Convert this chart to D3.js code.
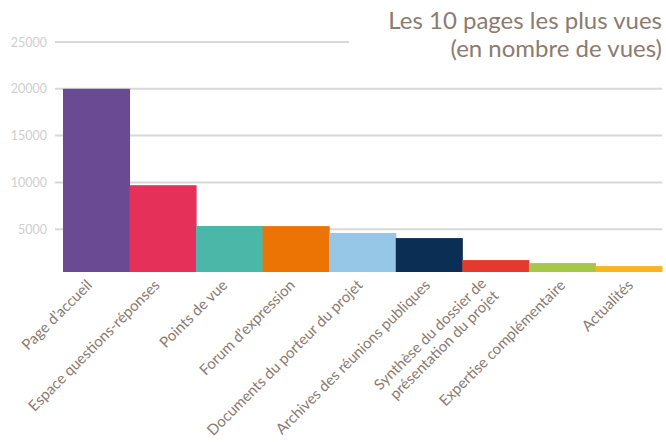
<!DOCTYPE html>
<html>
<head>
<meta charset="utf-8">
<script src="https://cdn.jsdelivr.net/npm/d3@7"></script>
<style>
  body { margin: 0; background: #fff; }
  svg { display: block; font-family: Lato, sans-serif; }
</style>
</head>
<body>
<div class="chart"></div>
<script>
var width = 666, height = 442;

// data
var pages = ["Page d\u2019accueil", "Espace questions-réponses", "Points de vue",
  "Forum d\u2019expression", "Documents du porteur du projet", "Archives des réunions publiques",
  "Synthèse du dossier de\nprésentation du projet", "Expertise complémentaire", "Actualités"];
var views = [20000, 9700, 5350, 5330, 4600, 4050, 1700, 1380, 1060];
var barColors = ["#6a4a92", "#e5305a", "#4bb7a9", "#ec7405", "#97c7e7", "#0a2e54", "#e4392f", "#a6c74a", "#f8b520"];
var yTicks = [5000, 10000, 15000, 20000, 25000];
var titleLines = ["Les 10 pages les plus vues", "(en nombre de vues)"];

var svg = d3.select(".chart").append("svg")
    .attr("width", width)
    .attr("height", height);

var xScale = d3.scaleBand()
    .domain(pages)
    .range([63, 662])
    .padding(0);

var labelScale = d3.scalePoint()
    .domain(pages)
    .range([92, 633]);

var yScale = d3.scaleLinear()
    .domain([0, 25000])
    .range([276, 42]);

var baseline = 272;

// gridlines + tick labels
var yAxis = d3.axisLeft(yScale)
    .tickValues(yTicks)
    .tickFormat(d3.format("d"))
    .tickSize(0)
    .tickPadding(8);

var gAxis = svg.append("g")
    .attr("transform", "translate(55,0)")
    .call(yAxis);
gAxis.select(".domain").remove();
gAxis.selectAll("text")
    .attr("fill", "#cfcfcf")
    .style("font-size", "12.5px")
    .style("font-family", "Lato, sans-serif");

svg.selectAll(".grid")
  .data(yTicks)
  .enter().append("line")
    .attr("class", "grid")
    .attr("x1", 55)
    .attr("x2", function(d) { return d == 25000 ? 349 : 662; })
    .attr("y1", function(d) { return yScale(d); })
    .attr("y2", function(d) { return yScale(d); })
    .attr("stroke", "#d8d8d8")
    .attr("stroke-width", 2);

// bars
svg.selectAll(".bar")
  .data(views)
  .enter().append("rect")
    .attr("class", "bar")
    .attr("x", function(d, i) { return xScale(pages[i]); })
    .attr("y", function(d) { return yScale(d); })
    .attr("width", xScale.bandwidth() + 0.5)
    .attr("height", function(d) { return baseline - yScale(d); })
    .attr("fill", function(d, i) { return barColors[i]; });

// rotated category labels
var labels = svg.selectAll(".lbl")
  .data(pages)
  .enter().append("text")
    .attr("class", "lbl")
    .attr("transform", function(d) { return "translate(" + labelScale(d) + ",285) rotate(-45)"; })
    .attr("text-anchor", "end")
    .attr("fill", "#8a7b72")
    .style("font-size", "15px");

labels.each(function(d) {
  var parts = d.split("\n");
  var t = d3.select(this);
  if (parts.length == 1) {
    t.append("tspan").attr("x", 0).attr("dy", "0.1em").text(d);
  } else {
    t.append("tspan").attr("x", -7).attr("dy", "-8").text(parts[0]);
    t.append("tspan").attr("x", -7).attr("dy", "17.5").text(parts[1]);
  }
});

// title
svg.selectAll(".title")
  .data(titleLines)
  .enter().append("text")
    .attr("class", "title")
    .attr("x", 662)
    .attr("y", function(d, i) { return 29 + i * 28; })
    .attr("text-anchor", "end")
    .attr("fill", "#8c7b70")
    .style("font-size", "24px")
    .text(function(d) { return d; });
</script>
</body>
</html>
